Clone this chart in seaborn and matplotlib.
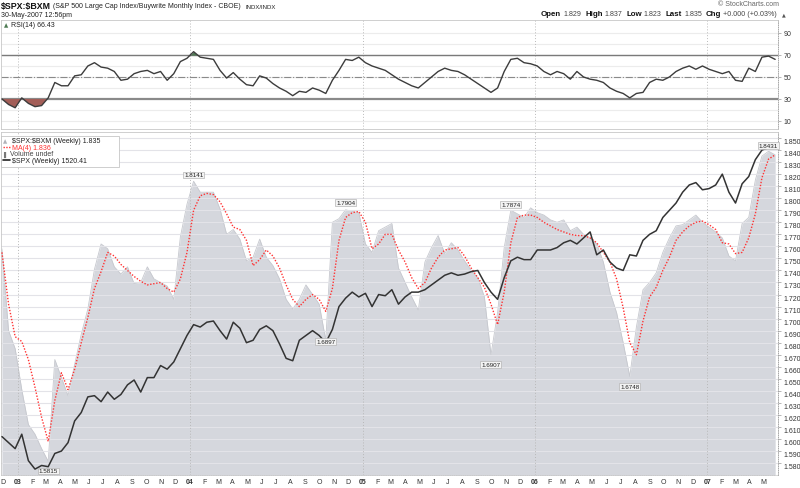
import numpy as np
import pandas as pd
import matplotlib
matplotlib.use("Agg")
import matplotlib.pyplot as plt
import matplotlib.transforms as mtransforms
from matplotlib.lines import Line2D
from matplotlib.patches import Rectangle
import seaborn as sns

# ---- data: biweekly closes, end of Nov 2002 .. May 2007 ----
ratio = [1.758, 1.690, 1.675, 1.641, 1.612, 1.604, 1.592, 1.5815, 1.666, 1.651,
         1.636, 1.662, 1.687, 1.708, 1.741, 1.762, 1.758, 1.743, 1.737, 1.743,
         1.729, 1.730, 1.743, 1.733, 1.730, 1.727, 1.716, 1.768, 1.795, 1.8141,
         1.805, 1.805, 1.805, 1.791, 1.770, 1.774, 1.766, 1.748, 1.751, 1.766,
         1.751, 1.744, 1.733, 1.716, 1.708, 1.716, 1.728, 1.720, 1.712, 1.682,
         1.780, 1.783, 1.7904, 1.789, 1.788, 1.762, 1.755, 1.773, 1.776, 1.779,
         1.742, 1.730, 1.718, 1.707, 1.747, 1.759, 1.769, 1.754, 1.763, 1.757,
         1.748, 1.740, 1.734, 1.718, 1.670, 1.705, 1.759, 1.790, 1.787, 1.784,
         1.792, 1.788, 1.786, 1.782, 1.780, 1.782, 1.773, 1.776, 1.770, 1.767,
         1.762, 1.747, 1.722, 1.705, 1.680, 1.652, 1.693, 1.724, 1.730, 1.738,
         1.755, 1.767, 1.777, 1.778, 1.782, 1.786, 1.780, 1.776, 1.772, 1.767,
         1.752, 1.748, 1.779, 1.784, 1.815, 1.835, 1.839, 1.836]

ma4 = [1.755, 1.712, 1.685, 1.681, 1.666, 1.643, 1.618, 1.598, 1.632, 1.655,
       1.641, 1.658, 1.680, 1.701, 1.725, 1.739, 1.755, 1.752, 1.745, 1.740,
       1.735, 1.731, 1.728, 1.729, 1.730, 1.725, 1.722, 1.733, 1.755, 1.790,
       1.802, 1.804, 1.803, 1.797, 1.787, 1.776, 1.774, 1.765, 1.744, 1.749,
       1.757, 1.752, 1.742, 1.728, 1.716, 1.710, 1.716, 1.720, 1.716, 1.706,
       1.725, 1.765, 1.784, 1.788, 1.789, 1.780, 1.758, 1.762, 1.770, 1.770,
       1.757, 1.747, 1.734, 1.725, 1.730, 1.742, 1.751, 1.757, 1.758, 1.759,
       1.752, 1.742, 1.734, 1.726, 1.712, 1.695, 1.722, 1.763, 1.784, 1.786,
       1.786, 1.784, 1.780, 1.777, 1.774, 1.772, 1.770, 1.769, 1.769, 1.767,
       1.763, 1.755, 1.747, 1.733, 1.709, 1.680, 1.670, 1.698, 1.718, 1.726,
       1.740, 1.751, 1.765, 1.772, 1.777, 1.780, 1.781, 1.778, 1.774, 1.763,
       1.762, 1.754, 1.755, 1.767, 1.787, 1.817, 1.8325, 1.836]

# $SPX has no axis of its own on the chart, so it is kept on the ratio scale
spx = [1.602, 1.597, 1.592, 1.604, 1.582, 1.575, 1.578, 1.577, 1.588, 1.590,
       1.597, 1.615, 1.622, 1.635, 1.636, 1.631, 1.639, 1.633, 1.637, 1.645,
       1.649, 1.639, 1.651, 1.651, 1.661, 1.658, 1.664, 1.675, 1.686, 1.695,
       1.693, 1.697, 1.698, 1.690, 1.683, 1.697, 1.692, 1.680, 1.682, 1.691,
       1.694, 1.690, 1.679, 1.667, 1.665, 1.682, 1.686, 1.690, 1.686, 1.680,
       1.691, 1.710, 1.717, 1.722, 1.718, 1.721, 1.710, 1.720, 1.719, 1.724,
       1.712, 1.718, 1.722, 1.722, 1.724, 1.728, 1.732, 1.736, 1.738, 1.736,
       1.737, 1.739, 1.740, 1.730, 1.722, 1.716, 1.734, 1.748, 1.751, 1.749,
       1.749, 1.757, 1.757, 1.757, 1.759, 1.763, 1.765, 1.762, 1.767, 1.772,
       1.753, 1.757, 1.747, 1.742, 1.740, 1.753, 1.752, 1.765, 1.770, 1.773,
       1.784, 1.790, 1.796, 1.805, 1.811, 1.813, 1.807, 1.808, 1.811, 1.820,
       1.805, 1.796, 1.812, 1.818, 1.832, 1.840, 1.842, 1.842]

rsi = [30, 25, 22, 31, 26, 23, 24, 31, 45, 42,
       42, 51, 52, 60, 63, 59, 58, 55, 47, 48,
       53, 55, 56, 53, 55, 47, 53, 64, 67, 73,
       68, 67, 66, 56, 49, 54, 48, 43, 42, 51,
       49, 44, 40, 37, 33, 37, 36, 40, 38, 35,
       47, 56, 66, 65, 68, 63, 60, 58, 56, 52,
       48, 45, 42, 40, 45, 50, 55, 58, 56, 55,
       52, 48, 44, 40, 36, 40, 55, 66, 67, 63,
       62, 60, 55, 52, 55, 53, 48, 55, 50, 48,
       47, 45, 40, 37, 35, 31, 35, 36, 45, 48,
       47, 50, 55, 58, 60, 57, 60, 57, 55, 53,
       55, 47, 46, 58, 55, 68, 69, 66]

# swing labels printed on the chart (bar highs / lows)
mark_idx = [7, 29, 49, 52, 74, 77, 95, 116]
mark_text = ["1.5815", "1.8141", "1.6897", "1.7904", "1.6907", "1.7874", "1.6748", "1.8431"]
mark_dy = [-7, 4.5, -1, 5, -7, 4, -7, 4]

dates = pd.date_range("2002-11-29", periods=len(ratio), freq="2W-FRI")
df = pd.DataFrame({"date": dates, "ratio": ratio, "ma4": ma4, "spx": spx, "rsi": rsi})

sns.set_theme(style="white")
plt.rcParams["font.family"] = ["Liberation Sans", "DejaVu Sans"]

W, H = 800, 489
fig = plt.figure(figsize=(W / 100, H / 100), dpi=100)


def fx(x):
    return x / W


def fy(y):
    return 1 - y / H


x0, x1 = pd.Timestamp("2002-11-27"), pd.Timestamp("2007-05-31")
years = pd.to_datetime(["2003-01-01", "2004-01-01", "2005-01-01", "2006-01-01", "2007-01-01"])
border = "#c8c8c8"

# ---------------- RSI panel ----------------
ax_r = fig.add_axes([fx(1), fy(130), fx(777), 109 / H])
for v in range(10, 100, 10):
    ax_r.axhline(v, color="#ececec", lw=0.8, zorder=0)
for d in years:
    ax_r.axvline(d, color="#bbbbbb", lw=0.7, ls=(0, (1, 2)), zorder=0)
ax_r.axhline(70, color="#7a7a7a", lw=1.0, zorder=1)
ax_r.axhline(30, color="#8a8a8a", lw=1.6, zorder=1)
ax_r.axhline(50, color="#8a8a8a", lw=0.8, ls="-.", zorder=1)
r = df["rsi"].to_numpy(float)
ax_r.fill_between(df["date"], r, 30, where=r < 30, interpolate=True, color="#a35e58", lw=0, zorder=2)
ax_r.fill_between(df["date"], r, 70, where=r > 70, interpolate=True, color="#4d7a52", lw=0, zorder=2)
sns.lineplot(data=df, x="date", y="rsi", ax=ax_r, color="#3c3c3c", lw=1.0, zorder=3)
ax_r.set_xlim(x0, x1)
ax_r.set_ylim(2.7, 101.8)
ax_r.set_xlabel("")
ax_r.set_ylabel("")
ax_r.set_xticks([])
ax_r.yaxis.tick_right()
ax_r.set_yticks([10, 30, 50, 70, 90])
ax_r.tick_params(axis="y", right=True, length=2, width=0.5, color="#999999", pad=2,
                 labelsize=5, labelcolor="#333333")
for s in ax_r.spines.values():
    s.set_color(border)
    s.set_linewidth(0.6)
ax_r.spines["right"].set_linestyle(":")
ax_r.spines["right"].set_color("#999999")
ax_r.text(0.004, 0.955, "\u25B2", transform=ax_r.transAxes, fontsize=4, color="#4d7a52",
          va="center", family=["DejaVu Sans"])
ax_r.text(0.013, 0.955, "RSI(14) 66.43", transform=ax_r.transAxes, fontsize=5,
          color="#222222", va="center")

# ---------------- price panel ----------------
ax = fig.add_axes([fx(1), fy(476), fx(777), 343 / H])
ax.fill_between(df["date"], df["ratio"], 1.5, color="#d5d7dd", lw=0, zorder=1)
ax.plot(df["date"], df["ratio"], color="#c6c8ce", lw=0.6, zorder=1)
for v in np.arange(1.56, 1.861, 0.01):
    ax.axhline(v, color="#e3e3e8", lw=0.8, zorder=2)
for d in years:
    ax.axvline(d, color="#b8b8b8", lw=0.7, ls=(0, (1, 2)), zorder=2)
sns.lineplot(data=df, x="date", y="ma4", ax=ax, color="#ff3333", lw=1.0, ls=(0, (1, 1.2)), zorder=3)
sns.lineplot(data=df, x="date", y="spx", ax=ax, color="#333333", lw=1.1, zorder=4)
ax.set_xlim(x0, x1)
ax.set_ylim(1.5701, 1.855)
ax.set_xlabel("")
ax.set_ylabel("")

ax.yaxis.tick_right()
ax.set_yticks(np.round(np.arange(1.58, 1.851, 0.01), 2))
ax.set_yticklabels([f"{v:.3f}" for v in np.arange(1.58, 1.851, 0.01)])
ax.tick_params(axis="y", right=True, length=2, width=0.5, color="#999999", pad=2,
               labelsize=5, labelcolor="#333333")
shift = mtransforms.ScaledTranslation(0, -2.5 / 100, fig.dpi_scale_trans)
for lab in ax.get_yticklabels():
    lab.set_transform(lab.get_transform() + shift)

# month letters under the price panel
ax.set_xticks([])
months = pd.date_range("2002-12-01", "2007-05-01", freq="MS")
xt = mtransforms.blended_transform_factory(ax.transData, fig.transFigure)
for m in months:
    jan = m.month == 1
    ax.text(m, fy(482.5), m.strftime("%y") if jan else m.strftime("%b")[0], transform=xt,
            ha="center", va="center", fontsize=5, color="#333333",
            fontweight="bold" if jan else "normal", clip_on=False)

for s in ax.spines.values():
    s.set_color(border)
    s.set_linewidth(0.6)
ax.spines["right"].set_linestyle(":")
ax.spines["right"].set_color("#999999")
ax.spines["bottom"].set_linestyle(":")

box = dict(boxstyle="square,pad=0.15", fc="#f3f3f3", ec="#b5b5b5", lw=0.5)
for i, txt, dy in zip(mark_idx, mark_text, mark_dy):
    ax.annotate(txt, xy=(dates[i], ratio[i]), xytext=(0, dy), textcoords="offset points",
                ha="center", va="center", fontsize=4.5, color="#222222", bbox=box, zorder=6)

# legend block
ax.add_patch(Rectangle((0, 0.899), 0.152, 0.089, transform=ax.transAxes, fc="white",
                       ec="#bbbbbb", lw=0.5, zorder=7))
leg_y = [0.974, 0.955, 0.937, 0.918]
ax.text(0.003, leg_y[0], "\u25B2", transform=ax.transAxes, fontsize=4, color="#b0b2b8",
        va="center", family=["DejaVu Sans"], zorder=8)
ax.text(0.014, leg_y[0], "\\$SPX:\\$BXM (Weekly) 1.835", transform=ax.transAxes, fontsize=5,
        color="#222222", va="center", zorder=8)
ax.add_line(Line2D([0.003, 0.013], [leg_y[1]] * 2, transform=ax.transAxes, color="#ff3333",
                   lw=1, ls=(0, (1, 1)), zorder=8))
ax.text(0.014, leg_y[1], "MA(4) 1.836", transform=ax.transAxes, fontsize=5, color="#ff3333",
        va="center", zorder=8)
ax.text(0.003, leg_y[2], "\u258C", transform=ax.transAxes, fontsize=4, color="#777777",
        va="center", family=["DejaVu Sans"], zorder=8)
ax.text(0.011, leg_y[2], "Volume undef", transform=ax.transAxes, fontsize=5, color="#444444",
        va="center", zorder=8)
ax.add_line(Line2D([0.003, 0.012], [leg_y[3]] * 2, transform=ax.transAxes, color="#222222",
                   lw=1.2, zorder=8))
ax.text(0.014, leg_y[3], "\\$SPX (Weekly) 1520.41", transform=ax.transAxes, fontsize=5,
        color="#222222", va="center", zorder=8)

# ---------------- header ----------------
fig.text(fx(1), fy(7), "\\$SPX:\\$BXM", fontsize=6.3, fontweight="bold", color="#111111", va="center")
fig.text(fx(53), fy(7), "(S&P 500 Large Cap Index/Buywrite Monthly Index - CBOE)", fontsize=5,
         color="#222222", va="center")
fig.text(fx(245), fy(7.5), "INDX/INDX", fontsize=4.3, color="#222222", va="center")
fig.text(fx(1), fy(15.5), "30-May-2007 12:56pm", fontsize=5, color="#222222", va="center")
fig.text(fx(779), fy(5), "\u00A9 StockCharts.com", fontsize=5, color="#666666", va="center", ha="right")

quote = [("Open", True), ("1.829", False), ("High", True), ("1.837", False), ("Low", True),
         ("1.823", False), ("Last", True), ("1.835", False), ("Chg", True), ("+0.000 (+0.03%)", False)]
renderer = fig.canvas.get_renderer()
xpos = 541
for txt, bold in quote:
    t = fig.text(fx(xpos), fy(15), txt, fontsize=5.7 if bold else 5.1,
                 fontweight="bold" if bold else "normal",
                 color="#111111" if bold else "#444444", va="center")
    xpos += t.get_window_extent(renderer).width + (2 if bold else 4)
fig.text(fx(xpos + 1), fy(15), "\u25B2", fontsize=3.5, color="#555555", va="center",
         family=["DejaVu Sans"])

fig.savefig("out.png", dpi=100, facecolor="white")
